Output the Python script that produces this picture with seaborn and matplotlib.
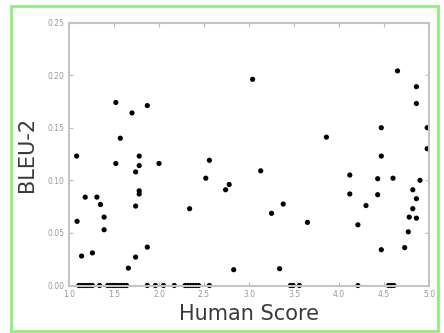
import numpy as np
import pandas as pd
import seaborn as sns
import matplotlib.pyplot as plt
from matplotlib.patches import Rectangle

# non-zero BLEU-2 points
human_score = [1.52, 1.87, 1.70, 1.57, 1.085, 1.78, 1.52, 1.78, 2.00, 1.74,
               1.78, 1.78, 1.18, 1.31, 1.35, 1.74, 1.09, 1.39, 1.39, 1.14,
               1.26, 1.87, 1.74, 1.66, 2.56, 2.52, 2.78, 2.74, 3.04, 2.34,
               2.83, 3.86, 3.13, 3.38, 3.25, 3.65, 3.34, 4.65, 4.86, 4.86,
               4.98, 4.47, 4.98, 4.47, 4.12, 4.43, 4.60, 4.90, 4.82, 4.12,
               4.43, 4.86, 4.30, 4.82, 4.78, 4.86, 4.21, 4.77, 4.47, 4.73]
bleu2 = [0.174, 0.171, 0.164, 0.140, 0.123, 0.123, 0.116, 0.114, 0.116, 0.108,
         0.090, 0.087, 0.084, 0.084, 0.077, 0.0755, 0.061, 0.065, 0.053, 0.028,
         0.031, 0.0365, 0.027, 0.0165, 0.119, 0.102, 0.096, 0.091, 0.196, 0.073,
         0.015, 0.141, 0.109, 0.0774, 0.0686, 0.060, 0.016, 0.204, 0.189, 0.173,
         0.150, 0.150, 0.130, 0.123, 0.105, 0.1015, 0.102, 0.100, 0.091, 0.087,
         0.0863, 0.0825, 0.076, 0.073, 0.065, 0.064, 0.0577, 0.051, 0.034, 0.036]

# points sitting on BLEU-2 = 0
zero_scores = [1.11, 1.14, 1.17, 1.20, 1.23, 1.26, 1.34, 1.43, 1.46, 1.49,
               1.52, 1.55, 1.58, 1.61, 1.64, 1.87, 1.96, 2.05, 2.17, 2.29,
               2.32, 2.35, 2.38, 2.41, 2.44, 2.56, 3.46, 3.49, 3.56, 4.21,
               4.55, 4.58, 4.61]

df = pd.DataFrame({'Human Score': human_score + zero_scores,
                   'BLEU-2': bleu2 + [0.0] * len(zero_scores)})

sns.set_style('white')
fig = plt.figure(figsize=(4.44, 3.33), dpi=100)
ax = fig.add_axes([69 / 444, 1 - 285.5 / 333, 360 / 444, 263 / 333])

sns.scatterplot(x='Human Score', y='BLEU-2', data=df, ax=ax, color='black',
                s=14, edgecolor='none', clip_on=False)

ax.set_xlim(1.0, 5.0)
ax.set_ylim(0.0, 0.25)
ax.set_xticks([1.0, 1.5, 2.0, 2.5, 3.0, 3.5, 4.0, 4.5, 5.0])
ax.set_yticks([0.0, 0.05, 0.10, 0.15, 0.20, 0.25])
ax.set_yticklabels(['0.00', '0.05', '0.10', '0.15', '0.20', '0.25'])
ax.tick_params(direction='in', length=3, width=0.8, colors='#bbbbbb',
               labelcolor='#999999', labelsize=5.5, top=True, right=True,
               left=True, bottom=True)
for side in ax.spines.values():
    side.set_color('#c4c4c4')
    side.set_linewidth(1.5)

ax.set_xlabel('Human Score', fontsize=15, color='#3a3a3a', labelpad=3)
ax.set_ylabel('BLEU-2', fontsize=15, color='#3a3a3a', labelpad=7)

# light green frame round the figure
fig.patches.append(Rectangle((11 / 444, 1 - 331 / 333), 427 / 444, 325 / 333,
                             transform=fig.transFigure, fill=False,
                             edgecolor='#8ef07a', linewidth=2))

fig.savefig('out.png', dpi=100)
